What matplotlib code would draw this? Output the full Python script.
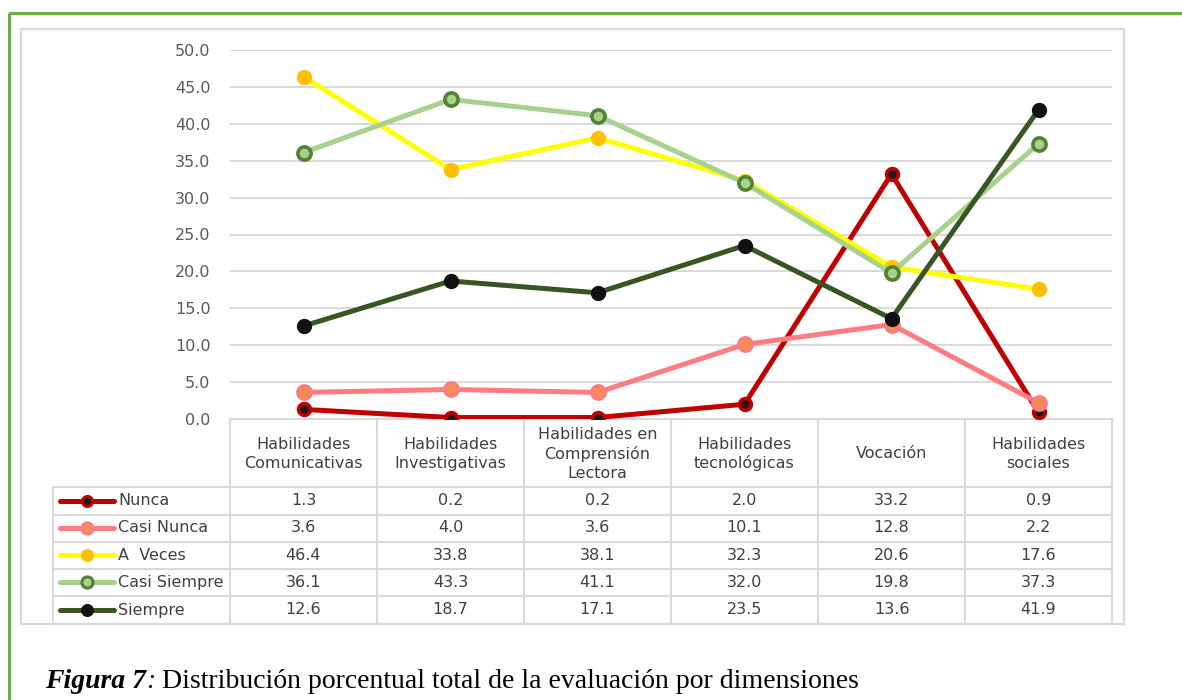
# Distribución porcentual total de la evaluación por dimensiones - line chart with data table
import matplotlib.pyplot as plt
from matplotlib.patches import Rectangle

categorias = [
    "Habilidades\nComunicativas",
    "Habilidades\nInvestigativas",
    "Habilidades en\nComprensión\nLectora",
    "Habilidades\ntecnológicas",
    "Vocación",
    "Habilidades\nsociales",
]
series_nombres = ["Nunca", "Casi Nunca", "A  Veces", "Casi Siempre", "Siempre"]
nunca = [1.3, 0.2, 0.2, 2.0, 33.2, 0.9]
casi_nunca = [3.6, 4.0, 3.6, 10.1, 12.8, 2.2]
a_veces = [46.4, 33.8, 38.1, 32.3, 20.6, 17.6]
casi_siempre = [36.1, 43.3, 41.1, 32.0, 19.8, 37.3]
siempre = [12.6, 18.7, 17.1, 23.5, 13.6, 41.9]
series_valores = [nunca, casi_nunca, a_veces, casi_siempre, siempre]
y_ticks = [0, 5, 10, 15, 20, 25, 30, 35, 40, 45, 50]
caption_bold = "Figura 7"
caption_colon = ":"
caption_rest = " Distribución porcentual total de la evaluación por dimensiones"

# line / marker styles per series
estilos = [
    dict(color="#C00000", mfc="#1a1a1a", mec="#C00000", ms=8.5, mew=2.6),
    dict(color="#FF7C80", mfc="#F0904A", mec="#FF7C80", ms=9.5, mew=2.6),
    dict(color="#FFFF00", mfc="#FFC000", mec="#FFC000", ms=10, mew=1.0),
    dict(color="#A9D18E", mfc="#A9D18E", mec="#548235", ms=9.5, mew=2.6),
    dict(color="#375623", mfc="#111111", mec="#111111", ms=10, mew=1.0),
]

W, H = 1182, 700
AX_L, AX_R, AX_T, AX_B = 230, 1112, 50, 419
LEG_L = 53
ROW_Y = [487, 514.5, 541.5, 568.5, 596, 624]
GRAY = "#D9D9D9"
TXT = "#404040"
FS = 11.5

fig = plt.figure(figsize=(W / 100, H / 100), dpi=100)

# background layer in pixel coordinates
bg = fig.add_axes([0, 0, 1, 1], zorder=0)
bg.set_xlim(0, W)
bg.set_ylim(H, 0)
bg.axis("off")

bg.add_patch(Rectangle((8.5, 13), W + 20, H + 20, fill=False, ec="#70AD47", lw=2.2))
bg.add_patch(Rectangle((20.5, 29), 1124 - 20.5, 624 - 29, fill=False, ec=GRAY, lw=1.6))

# main chart
ax = fig.add_axes([AX_L / W, 1 - AX_B / H, (AX_R - AX_L) / W, (AX_B - AX_T) / H], zorder=2)
ax.patch.set_alpha(0)
x = list(range(len(categorias)))
for valores, st in zip(series_valores, estilos):
    ax.plot(x, valores, color=st["color"], lw=3.6, marker="o", ms=st["ms"],
            mfc=st["mfc"], mec=st["mec"], mew=st["mew"], solid_capstyle="round", zorder=3)

ax.set_xlim(-0.5, len(categorias) - 0.5)
ax.set_ylim(0, 50)
ax.set_yticks(y_ticks)
ax.set_yticklabels([f"{v:.1f}" for v in y_ticks], fontsize=FS, color="#595959")
ax.tick_params(axis="y", length=0, pad=14)
ax.set_xticks([])
ax.grid(axis="y", color=GRAY, lw=1.4)
ax.set_axisbelow(True)
for s in ax.spines.values():
    s.set_visible(False)

# data table
col_w = (AX_R - AX_L) / len(categorias)
bg.plot([AX_L, AX_R], [AX_B, AX_B], color=GRAY, lw=1.5)
for j in range(len(categorias) + 1):
    xv = AX_L + j * col_w
    bg.plot([xv, xv], [AX_B, ROW_Y[-1]], color=GRAY, lw=1.5)
bg.plot([LEG_L, LEG_L], [ROW_Y[0], ROW_Y[-1]], color=GRAY, lw=1.5)
for yv in ROW_Y:
    bg.plot([LEG_L, AX_R], [yv, yv], color=GRAY, lw=1.5)

for j, cat in enumerate(categorias):
    bg.text(AX_L + (j + 0.5) * col_w, (AX_B + ROW_Y[0]) / 2 + 1, cat, ha="center", va="center",
            fontsize=FS, color=TXT, linespacing=1.3)

for i, (nombre, valores, st) in enumerate(zip(series_nombres, series_valores, estilos)):
    yc = (ROW_Y[i] + ROW_Y[i + 1]) / 2
    bg.plot([60, 114], [yc, yc], color=st["color"], lw=3.6, solid_capstyle="round")
    bg.plot([87], [yc], marker="o", ms=st["ms"] * 0.85, mfc=st["mfc"], mec=st["mec"], mew=st["mew"] * 0.85)
    bg.text(118, yc, nombre, ha="left", va="center", fontsize=FS, color=TXT)
    for j, v in enumerate(valores):
        bg.text(AX_L + (j + 0.5) * col_w, yc, f"{v:.1f}", ha="center", va="center",
                fontsize=FS, color=TXT)

# caption
CAP_FS = 20
fig.canvas.draw()
xc = 45
for txt, kw in [(caption_bold, dict(style="italic", weight="bold")),
                (caption_colon, dict(style="italic")),
                (caption_rest, {})]:
    t = bg.text(xc, 681, txt, fontsize=CAP_FS, family="Liberation Serif", va="center", ha="left", **kw)
    xc += t.get_window_extent(renderer=fig.canvas.get_renderer()).width

fig.savefig("out.png", dpi=100)
